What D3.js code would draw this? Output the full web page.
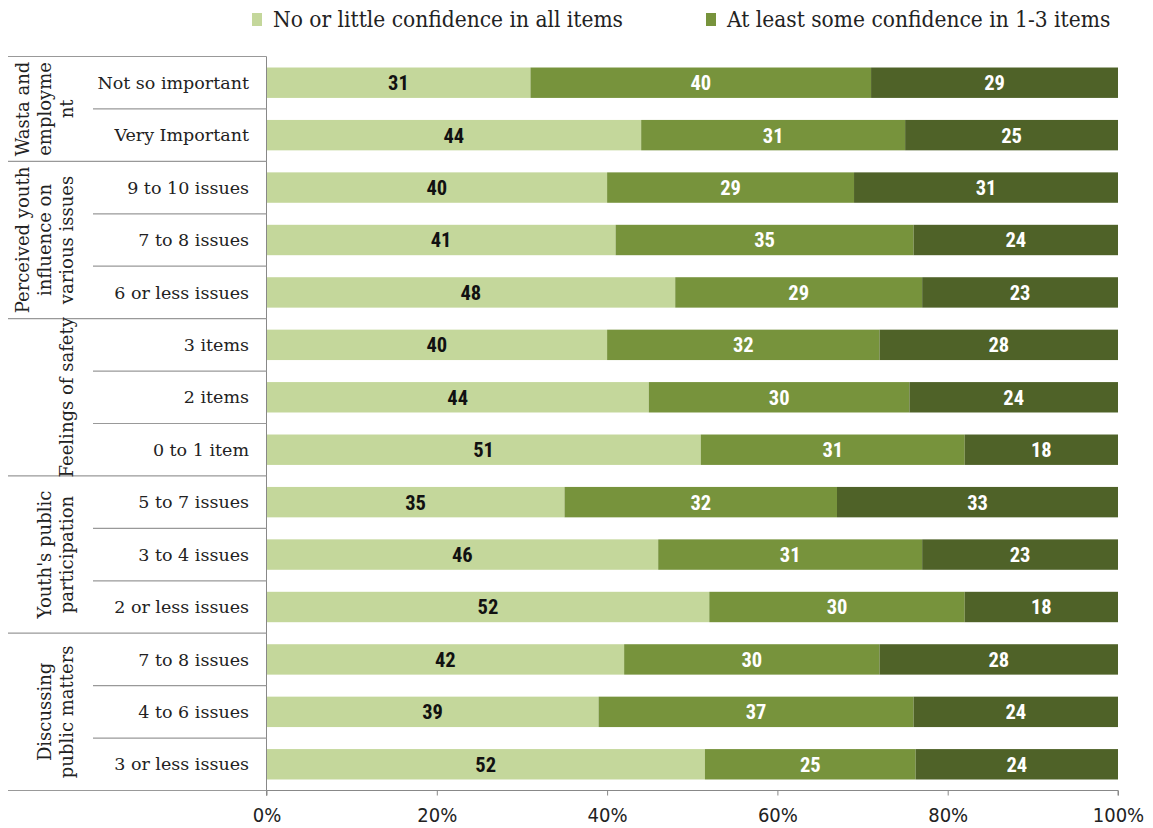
<!DOCTYPE html>
<html><head><meta charset="utf-8">
<script src="https://cdn.jsdelivr.net/npm/d3@7"></script>
<style>body{margin:0;background:#fff}svg{display:block}</style>
</head><body>
<svg id="c" width="1153" height="828"></svg>
<script>
const categories = ["Not so important","Very Important","9 to 10 issues","7 to 8 issues","6 or less issues","3 items","2 items","0 to 1 item","5 to 7 issues","3 to 4 issues","2 or less issues","7 to 8 issues ","4 to 6 issues","3 or less issues"];
const noConfidence =   [31,44,40,41,48,40,44,51,35,46,52,42,39,52];
const someConfidence = [40,31,29,35,29,32,30,31,32,31,30,30,37,25];
const highConfidence = [29,25,31,24,23,28,24,18,33,23,18,28,24,24];
const seriesNames = ["No or little confidence in all items","At least some confidence in 1-3 items"];
const groups = [
  {lines:["Wasta and","employme","nt"], start:0, end:2},
  {lines:["Perceived youth","influence on","various issues"], start:2, end:5},
  {lines:["Feelings of safety"], start:5, end:8},
  {lines:["Youth's public","participation"], start:8, end:11},
  {lines:["Discussing","public matters"], start:11, end:14}
];
const tickValues = [0,0.2,0.4,0.6,0.8,1];
const colors = ["#c4d79b","#77933c","#4f6228"];
const textColors = ["#111","#fff","#fff"];

const svg = d3.select("#c");
const x0 = 266.5, x1 = 1118, yTop = 56.5, yBot = 790.5;
const x = d3.scaleLinear().domain([0,1]).range([x0,x1]);
const y = d3.scaleBand().domain(d3.range(categories.length)).range([yTop,yBot]).paddingInner(0.42).paddingOuter(0.21);

const rows = categories.map((c,i)=>({i, a:noConfidence[i], b:someConfidence[i], c:highConfidence[i]}));
const stack = d3.stack().keys(["a","b","c"]).offset(d3.stackOffsetExpand);
const series = stack(rows);

series.forEach((s,k)=>{
  const g = svg.append("g");
  g.selectAll("rect").data(s).join("rect")
    .attr("x",d=>x(d[0])).attr("width",d=>x(d[1])-x(d[0]))
    .attr("y",d=>y(d.data.i)).attr("height",y.bandwidth())
    .attr("fill",colors[k]);
  g.selectAll("text").data(s).join("text")
    .attr("x",d=>(x(d[0])+x(d[1]))/2).attr("y",d=>y(d.data.i)+y.bandwidth()/2)
    .attr("dy","0.36em").attr("text-anchor","middle")
    .attr("font-family","'Liberation Sans Narrow','Roboto Condensed','DejaVu Sans Condensed',sans-serif")
    .attr("font-weight","bold").attr("font-size",20.5).attr("fill",textColors[k])
    .text(d=>d.data[["a","b","c"][k]]);
});

// axis
const xAxis = d3.axisBottom(x).tickValues(tickValues).tickFormat(d3.format(".0%")).tickSize(5);
const ax = svg.append("g").attr("transform",`translate(0,${yBot})`).call(xAxis);
ax.select(".domain").attr("stroke","#888").attr("d",`M${x0},5V0H${x1}V5`);
ax.selectAll(".tick line").attr("stroke","#888");
ax.selectAll(".tick text").attr("font-family","'Liberation Sans Narrow','DejaVu Sans Condensed',sans-serif")
  .attr("font-size",20).attr("fill","#222").attr("dy","1.15em");

// vertical axis line
svg.append("line").attr("x1",x0).attr("x2",x0).attr("y1",yTop).attr("y2",yBot+5).attr("stroke","#888");

// category lines and labels
const step = y.step();
const rowTop = i => yTop + i*step;
const lineG = svg.append("g").attr("stroke","#999").attr("stroke-width",1.2);
groups.forEach(g=>{
  lineG.append("line").attr("x1",8).attr("x2",x0).attr("y1",rowTop(g.start)).attr("y2",rowTop(g.start));
  for(let i=g.start+1;i<g.end;i++){
    lineG.append("line").attr("x1",93).attr("x2",x0).attr("y1",rowTop(i)).attr("y2",rowTop(i));
  }
});
lineG.append("line").attr("x1",8).attr("x2",x0).attr("y1",yBot).attr("y2",yBot);

svg.append("g").selectAll("text").data(categories).join("text")
  .attr("x",249).attr("y",(d,i)=>y(i)+y.bandwidth()/2).attr("dy","0.35em")
  .attr("text-anchor","end").attr("font-family","'DejaVu Serif',serif").attr("font-size",17.5)
  .attr("fill","#222").text(d=>d.trim());

groups.forEach(g=>{
  const cy = (rowTop(g.start)+rowTop(g.end))/2;
  const lastX = 67, lh = 22;
  const t = svg.append("text").attr("transform",`translate(${lastX},${cy}) rotate(-90)`)
    .attr("text-anchor","middle").attr("font-family","'DejaVu Serif',serif").attr("font-size",18).attr("fill","#222");
  const n = g.lines.length;
  g.lines.forEach((l,j)=>{
    t.append("tspan").attr("x",0).attr("y",-(n-1-j)*lh).attr("dy","0.35em").text(l);
  });
});

// legend
const legX = [252,706];
seriesNames.forEach((n,k)=>{
  svg.append("rect").attr("x",legX[k]).attr("y",13).attr("width",10).attr("height",13).attr("fill",colors[k]);
  svg.append("text").attr("x",legX[k]+21).attr("y",19).attr("dy","0.35em")
    .attr("font-family","'DejaVu Serif Condensed','DejaVu Serif',serif").attr("font-size",22.5).attr("fill","#222").text(n);
});
</script>
</body></html>
